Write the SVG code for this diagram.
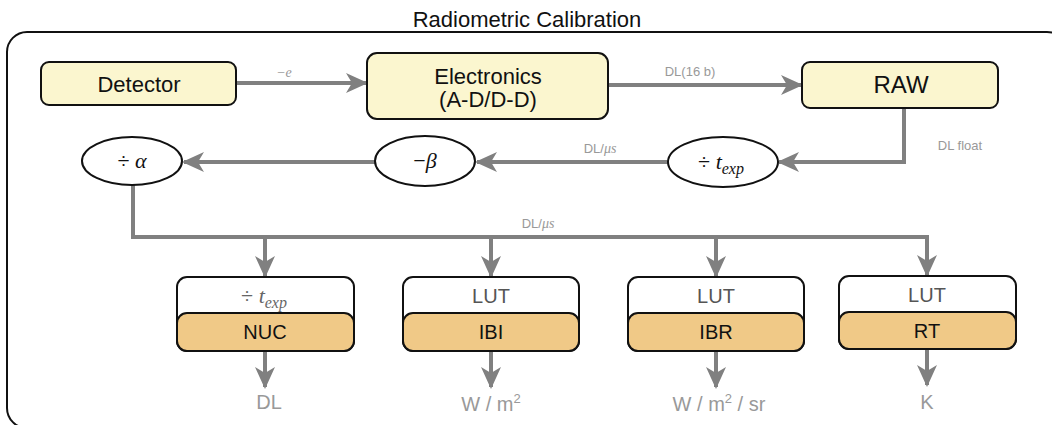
<svg xmlns="http://www.w3.org/2000/svg" width="1052" height="425" viewBox="0 0 1052 425">
<style>
.frame{fill:none;stroke:#111;stroke-width:2}
.yb{fill:#fbf6cf;stroke:#111;stroke-width:2}
.wb{fill:#fff;stroke:#111;stroke-width:2}
.ob{fill:#f0c987;stroke:#111;stroke-width:2}
.el{fill:#fff;stroke:#111;stroke-width:2}
.conn{fill:none;stroke:#808080;stroke-width:4;marker-end:url(#ah)}
.line{fill:none;stroke:#808080;stroke-width:4}
.t{font-family:"Liberation Sans",Arial,sans-serif;fill:#111;text-anchor:middle}
.lbl{font-family:"Liberation Sans",Arial,sans-serif;fill:#999;font-size:13px;text-anchor:middle}
.mi{font-family:"Liberation Serif","Times New Roman",serif;font-style:italic}
.out{font-family:"Liberation Sans",Arial,sans-serif;fill:#999;font-size:20px;text-anchor:middle}
.m{font-family:"Liberation Serif","Times New Roman",serif;fill:#111;text-anchor:middle;font-size:22px}
.lut{font-family:"Liberation Sans",Arial,sans-serif;fill:#555;font-size:20px;text-anchor:middle}
</style>
<defs>
<marker id="ah" viewBox="0 0 22 22" markerWidth="22" markerHeight="22" refX="20" refY="11" orient="auto" markerUnits="userSpaceOnUse">
<path d="M0,1 L22,11 L0,21 L6,11 Z" fill="#808080"/>
</marker>
</defs>
<rect class="frame" x="7" y="32" width="1060" height="396" rx="20"/>
<text class="t" x="527" y="27" font-size="22">Radiometric Calibration</text>

<g id="connectors">
<path class="conn" d="M237,83 H366"/>
<text class="lbl" x="284" y="77"><tspan class="mi" style="font-size:14px">−e</tspan></text>
<path class="conn" d="M609,85 H801"/>
<text class="lbl" x="690" y="76">DL(16 b)</text>
<path class="conn" d="M904,108 V162 H779"/>
<text class="lbl" x="960" y="150">DL float</text>
<path class="conn" d="M668,162 H477"/>
<text class="lbl" x="600" y="153">DL/<tspan class="mi" style="font-size:14px">μs</tspan></text>
<path class="conn" d="M375,162 H184"/>
<path class="line" d="M133,185 V237 H927"/>
<text class="lbl" x="538" y="228">DL/<tspan class="mi" style="font-size:14px">μs</tspan></text>
<path class="conn" d="M265,237 V276"/>
<path class="conn" d="M491,237 V276"/>
<path class="conn" d="M716,237 V276"/>
<path class="conn" d="M927,235 V275"/>
<path class="conn" d="M265,352 V387"/>
<path class="conn" d="M491,352 V387"/>
<path class="conn" d="M716,352 V387"/>
<path class="conn" d="M927,350 V385"/>
</g>

<g id="detector">
<rect class="yb" x="41" y="62" width="195" height="43" rx="8"/>
<text class="t" x="139" y="92" font-size="22">Detector</text>
</g>
<g id="electronics">
<rect class="yb" x="367" y="53" width="241" height="66" rx="10"/>
<text class="t" x="488" y="84" font-size="22">Electronics</text>
<text class="t" x="488" y="107" font-size="22">(A-D/D-D)</text>
</g>
<g id="raw">
<rect class="yb" x="802" y="62" width="196" height="46" rx="8"/>
<text class="t" x="901" y="93" font-size="24">RAW</text>
</g>
<g id="div-texp">
<ellipse class="el" cx="723" cy="162" rx="55" ry="25"/>
<text class="m" x="721" y="169">÷ <tspan font-style="italic">t<tspan font-size="16" dy="5">exp</tspan></tspan></text>
</g>
<g id="minus-beta">
<ellipse class="el" cx="425" cy="161" rx="50" ry="25"/>
<text class="m" x="425" y="168">−<tspan font-style="italic">β</tspan></text>
</g>
<g id="div-alpha">
<ellipse class="el" cx="132" cy="161" rx="50" ry="24"/>
<text class="m" x="132" y="168">÷ <tspan font-style="italic">α</tspan></text>
</g>

<g id="nuc">
<rect class="wb" x="177" y="277" width="177" height="74" rx="10"/>
<rect class="ob" x="177" y="313" width="177" height="38" rx="10"/>
<text class="m" x="264" y="303" style="fill:#666">÷ <tspan font-style="italic">t<tspan font-size="16" dy="5">exp</tspan></tspan></text>
<text class="t" x="265" y="339" font-size="20">NUC</text>
<text class="out" x="269" y="409">DL</text>
</g>
<g id="ibi">
<rect class="wb" x="403" y="277" width="176" height="74" rx="10"/>
<rect class="ob" x="403" y="313" width="176" height="38" rx="10"/>
<text class="lut" x="491" y="303">LUT</text>
<text class="t" x="491" y="339" font-size="20">IBI</text>
<text class="out" x="491" y="411">W / m<tspan font-size="13" dy="-8">2</tspan></text>
</g>
<g id="ibr">
<rect class="wb" x="628" y="277" width="176" height="74" rx="10"/>
<rect class="ob" x="628" y="313" width="176" height="38" rx="10"/>
<text class="lut" x="716" y="303">LUT</text>
<text class="t" x="716" y="339" font-size="20">IBR</text>
<text class="out" x="719" y="411">W / m<tspan font-size="13" dy="-8">2</tspan><tspan dy="8"> / sr</tspan></text>
</g>
<g id="rt">
<rect class="wb" x="839" y="276" width="177" height="73" rx="10"/>
<rect class="ob" x="839" y="312" width="177" height="37" rx="10"/>
<text class="lut" x="927" y="302">LUT</text>
<text class="t" x="927" y="338" font-size="20">RT</text>
<text class="out" x="927" y="409">K</text>
</g>
</svg>
